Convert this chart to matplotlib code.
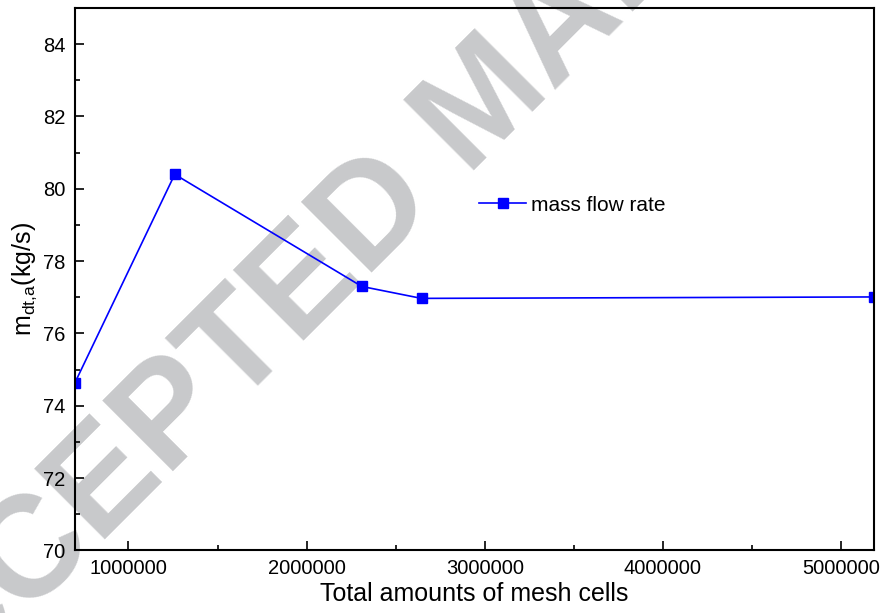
import numpy as np
import matplotlib
matplotlib.use('Agg')
import matplotlib.pyplot as plt
from matplotlib.ticker import MultipleLocator

plt.rcParams['font.family'] = ['Liberation Sans', 'DejaVu Sans']
plt.rcParams['mathtext.fontset'] = 'custom'
plt.rcParams['mathtext.rm'] = 'Liberation Sans'

''' Mesh independence data '''
mesh_cells = [700000, 1260000, 2310000, 2645000, 5185000]
mass_flow = [74.64, 80.40, 77.30, 76.97, 77.01]  # kg/s
series_label = 'mass flow rate'
watermark = 'ACCEPTED MANUSCRIPT'

fig = plt.figure(figsize=(8.82, 6.13), dpi=100)
ax = fig.add_axes([0.085, 0.102, 0.906, 0.885])
ax.patch.set_alpha(0)

# grey stamp behind the axes and labels
fig.text(0.552, 0.828, watermark, fontsize=104, fontweight='bold',
         color='#c8c9cb', rotation=45, rotation_mode='anchor',
         ha='center', va='center', zorder=-1)

ax.plot(mesh_cells, mass_flow, '-s', color='#0000ff', lw=1.2,
        markersize=7.2, label=series_label)

ax.set_xlim(mesh_cells[0], mesh_cells[-1])
ax.set_ylim(70, 85)
ax.xaxis.set_major_locator(MultipleLocator(1000000))
ax.xaxis.set_minor_locator(MultipleLocator(500000))
ax.yaxis.set_major_locator(MultipleLocator(2))
ax.yaxis.set_minor_locator(MultipleLocator(1))
ax.ticklabel_format(axis='x', style='plain', useOffset=False)

ax.tick_params(axis='both', which='both', direction='in',
               top=False, right=False, width=1.2, labelsize=14.5)
ax.tick_params(axis='both', which='major', length=6.5)
ax.tick_params(axis='both', which='minor', length=3.5)
ax.tick_params(axis='x', which='major', pad=6)
ax.tick_params(axis='y', which='major', pad=7)
for spine in ax.spines.values():
    spine.set_linewidth(1.5)

ax.set_xlabel('Total amounts of mesh cells', fontsize=18, labelpad=3)
ax.set_ylabel('m$_{\\mathregular{dt{,}a}}$(kg/s)', fontsize=18, labelpad=3)

ax.legend(loc='center left', bbox_to_anchor=(0.5056, 0.6365),
          frameon=False, fontsize=15, handlelength=2.26,
          handletextpad=0.26, borderpad=0, borderaxespad=0, numpoints=1)

plt.savefig('out.png', dpi=100)
plt.close(fig)
